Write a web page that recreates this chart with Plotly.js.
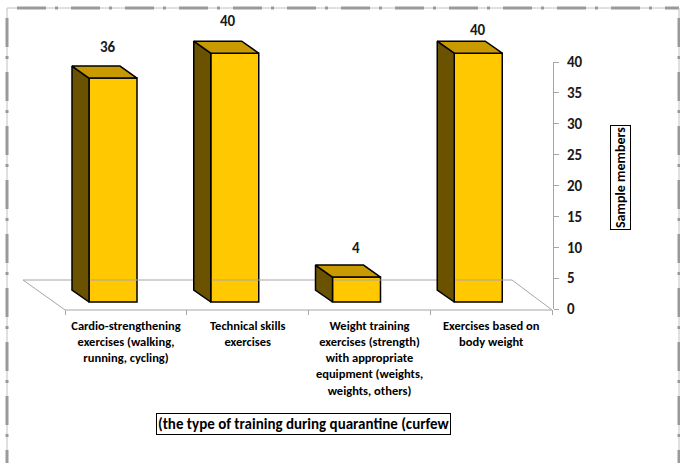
<!DOCTYPE html>
<html>
<head>
<meta charset="utf-8">
<script src="https://cdn.plot.ly/plotly-3.0.1.min.js"></script>
<style>
  html, body { margin: 0; padding: 0; background: #ffffff; }
  #chart { width: 680px; height: 463px; }
</style>
</head>
<body>
<div id="chart"></div>
<script>
// Training types practised during the quarantine curfew
const categories = [
  'Cardio-strengthening<br>exercises (walking,<br>running, cycling)',
  'Technical skills<br>exercises',
  'Weight training<br>exercises (strength)<br>with appropriate<br>equipment (weights,<br>weights, others)',
  'Exercises based on<br>body weight'
];
const members = [36, 40, 4, 40];
const axisTicks = [0, 5, 10, 15, 20, 25, 30, 35, 40];

// ---- page geometry (pixels) ----
const W = 680, H = 463;
const FONT = 'Carlito, Calibri, Lato, sans-serif';
const bandPx = 121.75;         // width of one category on the floor front
const cat0Px = 126;            // centre of the first category on the floor front
const axisPx = 553;            // right-hand value axis
const valPx = 6.22;            // pixels per member on the bar plane
const bar0Px = 302;            // bar plane baseline
const ax0Px = 309, ax40Px = 62; // value axis from 0 to 40

const pxToX = px => (px - cat0Px) / bandPx;
const pyToY = py => (bar0Px - py) / valPx;

// 3-D look: bar front plane sits a little behind the floor front
const frontShift = -13 / bandPx;
const barWidth = 48 / bandPx;
const depthX = -17 / bandPx;
const depthY = 12 / valPx;

const idx = categories.map((_, i) => i);
const barX = idx.map(i => i + frontShift);

// floor outline
const floorX = [-0.5, 3.5, pxToX(512), pxToX(23), -0.5];
const floorY = [pyToY(310), pyToY(310), pyToY(280), pyToY(280), pyToY(310)];

// side and top faces built from the bar values
const sideX = [], sideY = [], topX = [], topY = [];
members.forEach((v, i) => {
  const xl = barX[i] - barWidth / 2, xr = barX[i] + barWidth / 2;
  sideX.push(xl, xl, xl + depthX, xl + depthX, xl, null);
  sideY.push(0, v, v + depthY, depthY, 0, null);
  topX.push(xl, xr, xr + depthX, xl + depthX, xl, null);
  topY.push(v, v, v + depthY, v + depthY, v, null);
});

const edge = { color: '#000000', width: 1.5 };

const traces = [
  { type: 'scatter', x: floorX, y: floorY, mode: 'lines', fill: 'toself',
    fillcolor: 'rgba(255,255,255,0)', line: { color: '#a6a6a6', width: 1 },
    hoverinfo: 'skip', showlegend: false },
  { type: 'scatter', x: sideX, y: sideY, mode: 'lines', fill: 'toself',
    fillcolor: '#6b5200', line: edge, hoverinfo: 'skip', showlegend: false },
  { type: 'scatter', x: topX, y: topY, mode: 'lines', fill: 'toself',
    fillcolor: '#c99a00', line: edge, hoverinfo: 'skip', showlegend: false },
  { type: 'bar', x: barX, y: members, width: barWidth, base: 0,
    marker: { color: '#ffc800', line: edge }, showlegend: false, hoverinfo: 'y' },
  { type: 'scatter', x: [0, 0], y: [0, 40], xaxis: 'x', yaxis: 'y2', mode: 'markers',
    marker: { opacity: 0 }, hoverinfo: 'skip', showlegend: false }
];

// value labels above each bar
const labelLift = [19, 20, 17, 11];
const labelNudge = [-5, -6, 0, 0];
const annotations = members.map((v, i) => ({
  x: barX[i] + depthX / 2, y: v + depthY, xref: 'x', yref: 'y',
  text: String(v), showarrow: false, xanchor: 'center', yanchor: 'middle',
  yshift: labelLift[i], xshift: labelNudge[i] + 8,
  font: { family: FONT, size: 15, color: '#1a1a1a', weight: 700 }
}));

// axis titles in boxes
annotations.push({
  x: 620 / W, y: 1 - 178 / H, xref: 'paper', yref: 'paper',
  xanchor: 'center', yanchor: 'middle',
  text: 'Sample members', textangle: -90, showarrow: false,
  font: { family: FONT, size: 14, color: '#000000', weight: 700 },
  bordercolor: '#000000', borderwidth: 1, borderpad: 1, bgcolor: '#ffffff'
});
annotations.push({
  x: 303 / W, y: 1 - 424 / H, xref: 'paper', yref: 'paper',
  xanchor: 'center', yanchor: 'middle',
  text: '(the type of training during quarantine (curfew', showarrow: false,
  font: { family: FONT, size: 15, color: '#000000', weight: 700 },
  bordercolor: '#000000', borderwidth: 1, borderpad: 1, bgcolor: '#ffffff'
});

// dash-dot frame around the chart
const fx0 = 7 / W, fx1 = 679 / W, fy1 = 1 - 8 / H, fy0 = -0.2;
const thin = { color: '#c0c0c0', width: 1 };
const thick = { color: '#9a9a9a', width: 3, dash: '0px,10px,29px,9px,3px,3px' };
const frameLines = [
  [fx0, fy1, fx1, fy1], [fx0, fy1, fx0, fy0], [fx1, fy1, fx1, fy0]
];
const shapes = [];
frameLines.forEach(([x0, y0, x1, y1]) => {
  shapes.push({ type: 'line', xref: 'paper', yref: 'paper', x0, y0, x1, y1, line: thin, layer: 'below' });
  shapes.push({ type: 'line', xref: 'paper', yref: 'paper', x0, y0, x1, y1, line: thick, layer: 'below' });
});

const layout = {
  width: W, height: H,
  margin: { l: 0, r: 0, t: 0, b: 0, pad: 0 },
  paper_bgcolor: '#ffffff', plot_bgcolor: 'rgba(0,0,0,0)',
  showlegend: false,
  xaxis: {
    domain: [0, axisPx / W], range: [pxToX(0), pxToX(axisPx)],
    anchor: 'y2', showgrid: false, zeroline: false, showline: false,
    tickmode: 'array', tickvals: idx, ticktext: categories,
    ticks: '', ticklen: 5, ticklabelstandoff: 7,
    minor: { tickmode: 'array', tickvals: [-0.5, 0.5, 1.5, 2.5, 3.5], ticks: 'outside',
             ticklen: 5, tickwidth: 1, tickcolor: '#a6a6a6', showgrid: false },
    tickfont: { family: FONT, size: 12.5, color: '#000000', weight: 700 },
    fixedrange: true
  },
  yaxis: {
    domain: [0, 1], range: [pyToY(H), pyToY(0)], anchor: 'x',
    visible: false, fixedrange: true
  },
  yaxis2: {
    domain: [1 - ax0Px / H, 1 - ax40Px / H], range: [0, 40], anchor: 'x', side: 'right',
    tickmode: 'array', tickvals: axisTicks,
    showline: true, linecolor: '#a6a6a6', linewidth: 1,
    ticks: 'outside', ticklen: 5, tickcolor: '#a6a6a6',
    showgrid: false, zeroline: false, ticklabelstandoff: 5,
    tickfont: { family: FONT, size: 15, color: '#1a1a1a', weight: 700 },
    fixedrange: true
  },
  annotations, shapes,
  bargap: 0
};

Plotly.newPlot('chart', traces, layout, { displayModeBar: false, staticPlot: true });
</script>
</body>
</html>
